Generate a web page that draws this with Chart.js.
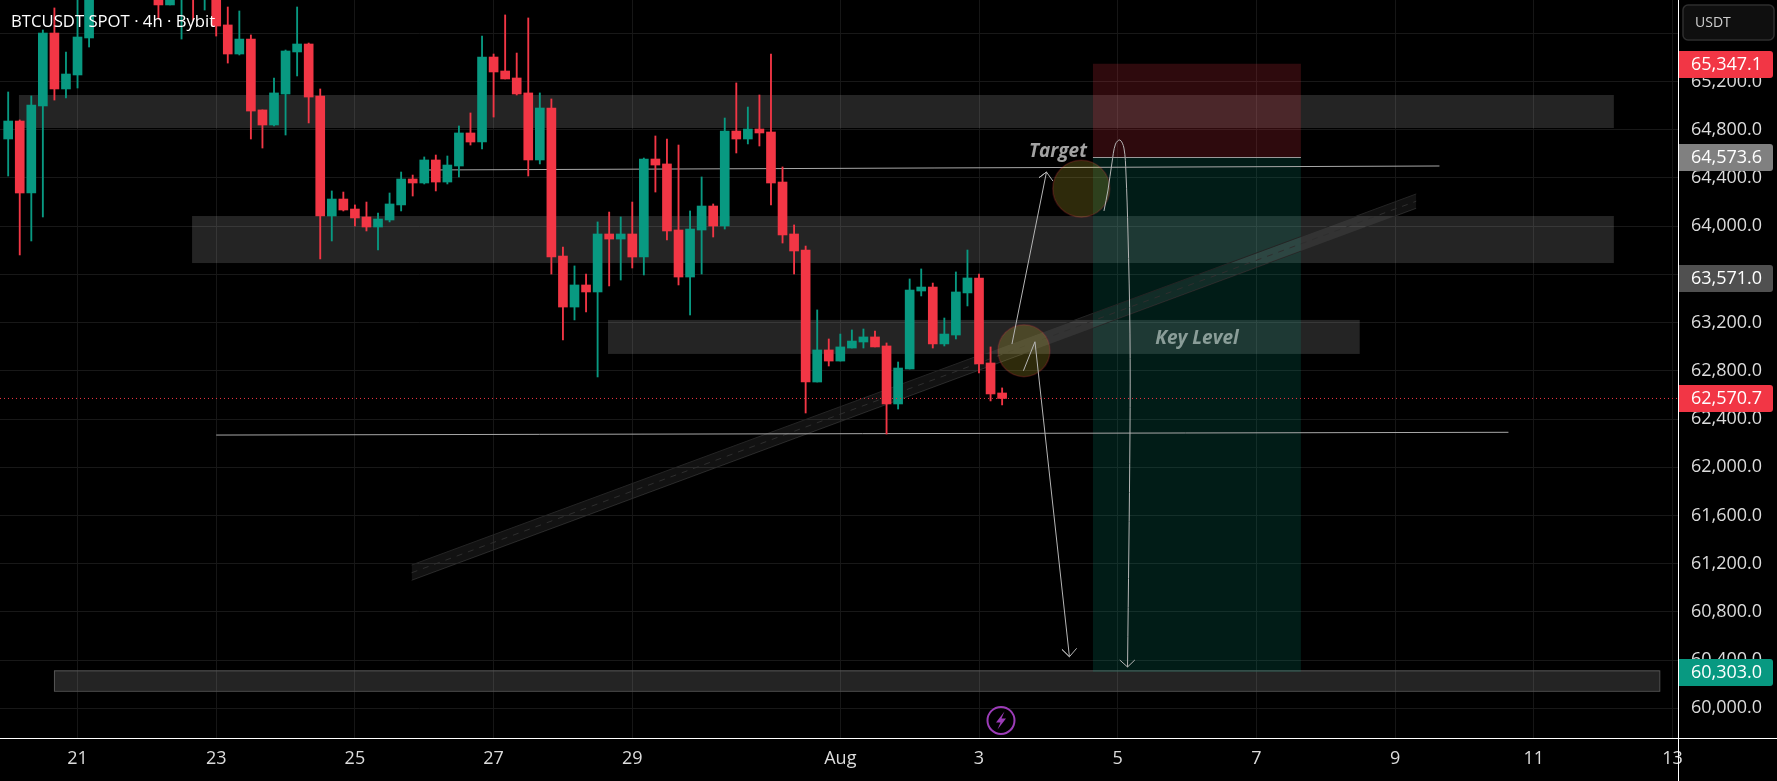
<!DOCTYPE html>
<html>
<head>
<meta charset="utf-8">
<style>html,body{margin:0;padding:0;background:#000;overflow:hidden}canvas{display:block}</style>
<script src="https://cdn.jsdelivr.net/npm/chart.js@4"></script>
</head>
<body>
<canvas id="c" width="1777" height="781" style="width:1777px;height:781px"></canvas>
<script>
const chartTitle = "BTCUSDT SPOT · 4h · Bybit";
const firstCandleDay = 20;           // Jul 20 00:00; one candle every 4 h
const candleStep = 1 / 6;

const opens = [64723,64872,64275,64997,65602,65138,65254,65561,null,null,null,null,null,65960,65835,65930,66030,65930,65990,65669,65428,65552,64964,64839,65096,65445,65511,65080,64084,64225,64142,64076,63993,64051,64176,64391,64358,64549,64366,64499,64773,64698,65403,65287,65229,65105,64549,64980,63752,63329,63512,63454,63935,63893,63935,63744,64557,64516,63968,63578,63968,64167,64001,64789,64723,64806,64781,64366,63935,63802,62707,62973,62881,62989,63039,63081,63006,62525,62815,63462,63495,63023,63097,63446,63570,62865,62616];
const highs = [65113,64881,65080,65627,65810,65445,65904,66000,null,null,null,null,null,66000,65990,66030,66050,66020,66030,65818,65785,65586,64964,65229,65461,65818,65519,65138,64292,64283,64176,64200,64109,64275,64449,64424,64574,64590,64582,64831,64939,65577,65428,65752,65436,65727,65105,65055,63827,63670,63603,64035,64117,64076,64200,64565,64748,64723,64673,64126,64408,64184,64897,65188,64988,65088,65428,64491,64010,63835,63305,63064,63105,63139,63147,63130,63031,62873,63562,63645,63528,63238,63620,63802,63603,62998,62658];
const lows = [64416,63761,63877,64076,65046,65063,65146,65486,null,null,null,null,null,65718,65835,65552,65710,65793,65577,65353,65420,64723,64648,64831,64756,65246,64856,63728,63877,64126,64001,63960,63802,64035,64126,64250,64350,64292,64350,64408,64673,64640,64905,65221,65088,64416,64516,63603,63056,63222,63288,62749,63504,63553,63653,63595,64283,63885,63512,63263,63603,63910,63976,64607,64682,64665,64176,63860,63603,62450,62707,62840,62881,62989,62989,62998,62276,62483,62815,63421,62989,63006,63064,63338,62782,62550,62517];
const closes = [64872,64275,65005,65602,65138,65262,65569,65960,null,null,null,null,null,65835,65950,66000,65930,66020,65660,65428,65552,64955,64839,65105,65453,65511,65071,64084,64225,64134,64068,63993,64059,64184,64391,64358,64549,64366,64507,64773,64698,65403,65279,65221,65096,64549,64980,63744,63329,63512,63454,63935,63893,63935,63744,64557,64507,63960,63578,63976,64167,64001,64789,64723,64806,64773,64358,63927,63794,62707,62973,62881,62998,63047,63081,62998,62525,62823,63470,63495,63023,63105,63454,63570,62857,62608,62570.7];

const yTickValues = [60000,60400,60800,61200,61600,62000,62400,62800,63200,63600,64000,64400,64800,65200,65600];
const xTickDays = [21,23,25,27,29,32,34,36,38,40,42,44];
const xTickLabels = ["21","23","25","27","29","Aug","3","5","7","9","11","13"];

// grey zones: price top, price bottom, start day, end day
const zoneTops = [65088,64084,63222,60315];
const zoneBottoms = [64814,63694,62940,60146];
const zoneStarts = [20.155,22.652,28.65,20.66];
const zoneEnds = [43.155,43.155,39.49,43.81];

// long position tool
const stopPrice = 65347.1, entryPrice = 64573.6, targetPrice = 60303.0;
const boxStartDay = 35.643, boxEndDay = 38.642;

// right axis price tags
const tagPrices = [65347.1,64573.6,63571.0,62570.7,60303.0];
const tagColors = ["#F23645","#808080","#505050","#F23645","#089981"];

const lineADays = [26.063,40.64],  lineAPrices = [64466,64499];
const lineBDays = [23,41.635],     lineBPrices = [62267,62290];
const channelDays = [25.818,40.305];
const channelTopPrices = [61189,64267];
const channelMidPrices = [61125,64207];
const channelBottomPrices = [61062,64148];

const arrowUpDays = [34.475,34.973,34.865,34.973,35.066];
const arrowUpPrices = [63022,64449,64402,64449,64374];
const arrowDownDays = [34.641,34.807,35.304,35.196,35.304,35.408];
const arrowDownPrices = [62801,63041,60428,60489,60428,60498];
const curveDays = [35.802,35.860,35.917,35.968,36.032,36.090,36.119,36.148,36.177,36.177,36.142];
const curvePrices = [64126,64300,64524,64681,64715,64648,64441,63943,63113,62284,60343];
const curveHeadDays = [36.03,36.142,36.247];
const curveHeadPrices = [60401,60343,60401];
const circleDays = [34.648,35.475];
const circlePrices = [62967,64311];
const circleRadii = [26,28.5];

const GREEN = "#089981", RED = "#F23645";
const FONT = '"Open Sans", sans-serif';

const xy = (xs, ys) => xs.map((x, i) => ({ x, y: ys[i] }));
const candleX = opens.map((_, i) => firstCandleDay + i * candleStep);
const shown = opens.map((o, i) => o !== null);
const candleColors = opens.map((o, i) => (closes[i] >= o ? GREEN : RED));
const wickData = candleX.map((x, i) => shown[i] ? { x, y: [lows[i], highs[i]] } : null).filter(Boolean);
const bodyData = candleX.map((x, i) => shown[i] ? { x, y: [opens[i], closes[i]] } : null).filter(Boolean);
const visColors = candleColors.filter((_, i) => shown[i]);
const lastPrice = closes[closes.length - 1];

const lineDs = (data, extra) => Object.assign({
  type: "line", data, borderColor: "#b5b5b5", borderWidth: 1, pointRadius: 0, fill: false, tension: 0, order: 5
}, extra);

const noPad = s => { s.paddingLeft = s.paddingRight = s.paddingTop = s.paddingBottom = 0; };

const drawings = {
  id: "drawings",
  beforeDatasetsDraw(chart) {
    const { ctx, scales: { x, y } } = chart;
    ctx.save();
    zoneTops.forEach((t, i) => {
      const l = x.getPixelForValue(zoneStarts[i]), r = x.getPixelForValue(zoneEnds[i]);
      const a = y.getPixelForValue(t), b = y.getPixelForValue(zoneBottoms[i]);
      ctx.fillStyle = "rgba(255,255,255,0.14)";
      ctx.fillRect(l, a, r - l, b - a);
      if (i === 3) { ctx.strokeStyle = "#555555"; ctx.lineWidth = 1; ctx.strokeRect(l + .5, a + .5, r - l, b - a); }
    });
    const l = x.getPixelForValue(boxStartDay), r = x.getPixelForValue(boxEndDay);
    const s = y.getPixelForValue(stopPrice), e = y.getPixelForValue(entryPrice), t = y.getPixelForValue(targetPrice);
    ctx.fillStyle = "rgba(242,54,69,0.19)"; ctx.fillRect(l, s, r - l, e - s);
    ctx.fillStyle = "rgba(8,153,129,0.18)"; ctx.fillRect(l, e, r - l, t - e);
    ctx.restore();
  },
  afterDatasetsDraw(chart) {
    const { ctx, scales: { x, y } } = chart;
    ctx.save();
    const l = x.getPixelForValue(boxStartDay), r = x.getPixelForValue(boxEndDay), e = y.getPixelForValue(entryPrice);
    ctx.strokeStyle = "#9a9a9a"; ctx.lineWidth = 1;
    ctx.beginPath(); ctx.moveTo(l, Math.round(e) + .5); ctx.lineTo(r, Math.round(e) + .5); ctx.stroke();
    // drawing labels
    ctx.textAlign = "center"; ctx.textBaseline = "middle";
    ctx.font = 'italic 700 19px ' + FONT;
    ctx.fillStyle = "rgba(190,190,190,0.85)";
    ctx.fillText("Target", x.getPixelForValue(35.138), y.getPixelForValue(64615));
    ctx.fillStyle = "rgba(205,220,215,0.62)";
    ctx.fillText("Key Level", x.getPixelForValue(37.143), y.getPixelForValue(63064));
    // lightning badge
    const bx = x.getPixelForValue(34.317), by = y.getPixelForValue(59900);
    ctx.strokeStyle = "#9C3CB8"; ctx.lineWidth = 2;
    ctx.beginPath(); ctx.arc(bx, by, 13.5, 0, Math.PI * 2); ctx.stroke();
    ctx.fillStyle = "#9C3CB8";
    ctx.beginPath();
    ctx.moveTo(bx + 3.5, by - 9); ctx.lineTo(bx - 5, by + 2); ctx.lineTo(bx - .5, by + 2);
    ctx.lineTo(bx - 3.5, by + 9); ctx.lineTo(bx + 5, by - 2); ctx.lineTo(bx + .5, by - 2);
    ctx.closePath(); ctx.fill();
    ctx.restore();
  },
  afterDraw(chart) {
    const { ctx, scales: { y }, chartArea: a, width, height } = chart;
    ctx.save();
    // title
    ctx.fillStyle = "#ffffff"; ctx.font = "16.7px " + FONT;
    ctx.textAlign = "left"; ctx.textBaseline = "middle";
    ctx.fillText(chartTitle, 11, 22);
    // axis frame
    ctx.fillStyle = "#ffffff";
    ctx.fillRect(a.right, 0, 1, height);
    ctx.fillRect(0, a.bottom, width, 1);
    // USDT box
    ctx.fillStyle = "#0f0f0f"; ctx.strokeStyle = "#2e2e2e"; ctx.lineWidth = 1.5;
    ctx.beginPath(); ctx.roundRect(a.right + 5, 5, 91, 35, 5); ctx.fill(); ctx.stroke();
    ctx.fillStyle = "#cfcfcf"; ctx.font = "14px " + FONT;
    ctx.fillText("USDT", a.right + 17, 23);
    // price tags
    tagPrices.forEach((p, i) => {
      const c = Math.round(y.getPixelForValue(p));
      ctx.fillStyle = tagColors[i];
      ctx.beginPath(); ctx.roundRect(a.right + 1, c - 13, 94, 27, [0, 3, 3, 0]); ctx.fill();
      ctx.fillStyle = "#ffffff"; ctx.font = "18px " + FONT;
      ctx.fillText(p.toLocaleString("en-US", { minimumFractionDigits: 1, maximumFractionDigits: 1 }), a.right + 13, c + 1);
    });
    ctx.restore();
  }
};

new Chart(document.getElementById("c"), {
  type: "bar",
  data: {
    datasets: [
      { type: "bar", data: wickData, backgroundColor: visColors, barThickness: 1.2, grouped: false, order: 3 },
      { type: "bar", data: bodyData, backgroundColor: visColors, barThickness: 9, grouped: false, order: 2 },
      lineDs(xy([19.882, 44.08], [lastPrice, lastPrice]), { borderColor: RED, borderDash: [1, 3], order: 1 }),
      lineDs(xy(channelDays, channelTopPrices), { borderColor: "#242424", fill: "+1", backgroundColor: "rgba(255,255,255,0.07)", order: 9 }),
      lineDs(xy(channelDays, channelBottomPrices), { borderColor: "#242424", order: 9 }),
      lineDs(xy(channelDays, channelMidPrices), { borderColor: "#2e2e2e", borderDash: [6, 6], order: 8 }),
      lineDs(xy(lineADays, lineAPrices), { borderColor: "#a8a8a8", order: 7 }),
      lineDs(xy(lineBDays, lineBPrices), { borderColor: "#a8a8a8", order: 7 }),
      lineDs(xy(circleDays, circlePrices), {
        showLine: false, pointRadius: circleRadii, pointBackgroundColor: "rgba(255,235,59,0.18)",
        pointBorderColor: "rgba(242,54,69,0.2)", pointBorderWidth: 1.5, order: 6
      }),
      lineDs(xy(arrowUpDays, arrowUpPrices)),
      lineDs(xy(arrowDownDays, arrowDownPrices)),
      lineDs(xy(curveDays, curvePrices), { tension: 0.35 }),
      lineDs(xy(curveHeadDays, curveHeadPrices))
    ]
  },
  options: {
    responsive: false, animation: false, devicePixelRatio: 1,
    layout: { padding: 0, autoPadding: false },
    plugins: { legend: { display: false }, tooltip: { enabled: false }, title: { display: false } },
    scales: {
      x: {
        type: "linear", offset: false, min: 19.882, max: 44.08,
        afterBuildTicks(s) { s.ticks = xTickDays.map(v => ({ value: v })); },
        afterFit(s) { s.height = 43; noPad(s); },
        grid: { color: "#161616", drawTicks: false, offset: false },
        border: { display: false },
        ticks: {
          autoSkip: false, maxRotation: 0, padding: 10, color: "#dcdcdc",
          font: { family: FONT, size: 18 },
          callback(v) { return xTickLabels[xTickDays.indexOf(v)]; }
        }
      },
      y: {
        position: "right", min: 59754, max: 65876,
        afterBuildTicks(s) { s.ticks = yTickValues.map(v => ({ value: v })); },
        afterFit(s) { s.width = 99; noPad(s); },
        grid: { color: "#181818", drawTicks: false, offset: false },
        border: { display: false },
        ticks: {
          padding: 13, color: "#dcdcdc", autoSkip: false,
          font: { family: FONT, size: 18 },
          callback(v) { return v.toLocaleString("en-US", { minimumFractionDigits: 1, maximumFractionDigits: 1 }); }
        }
      }
    }
  },
  plugins: [drawings]
});
</script>
</body>
</html>
